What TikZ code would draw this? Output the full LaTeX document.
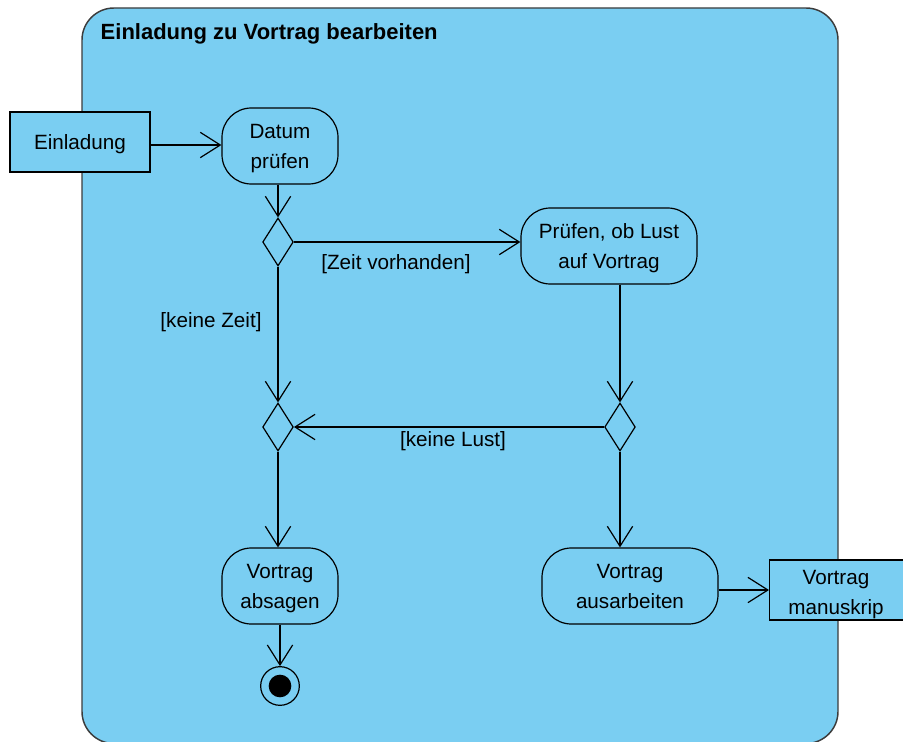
\documentclass[tikz,border=0pt]{standalone}
\usepackage{fontspec}
\setmainfont{Liberation Sans}
\usetikzlibrary{shapes.geometric,arrows.meta}
\definecolor{actfill}{RGB}{122,206,242}
\definecolor{framedraw}{RGB}{60,60,60}
\begin{document}
\begin{tikzpicture}[x=0.75pt,y=-0.75pt,
  txt/.style={font=\fontsize{15.5}{22.5}\selectfont, align=center},
  boxtxt/.style={txt, text depth=0pt},
  action/.style={boxtxt, draw=black, line width=0.9pt, fill=actfill, rounded corners=22pt,
    minimum width=#1, minimum height=57pt, inner sep=0pt},
  objbox/.style={boxtxt, draw=black, line width=0.9pt, fill=actfill, rectangle,
    minimum width=#1, minimum height=45pt, inner sep=0pt},
  decision/.style={draw=black, line width=0.9pt, fill=actfill, diamond, aspect=0.62,
    minimum width=23pt, minimum height=36pt, inner sep=0pt},
  flow/.style={draw=black, line width=0.9pt, -{Straight Barb[length=15pt, width=19pt, line width=0.9pt]}},
  guard/.style={txt}]
  \useasboundingbox (0,0) rectangle (903,742);
  \begin{scope}
    \clip (0,0) rectangle (903,742);
    % activity frame
    \draw[draw=framedraw, line width=1.1pt, fill=actfill, rounded corners=24pt]
      (82,8) rectangle (838,743.5);
    \node[anchor=west, font=\fontsize{16.5}{19}\bfseries\selectfont] (title) at (96,34)
      {Einladung zu Vortrag bearbeiten};

    % object nodes
    \node[objbox=105pt] (einl) at (80,142) {Einladung};
    \node[objbox=105pt, anchor=west] (manu) at (769,590) {};
    \node[boxtxt] (manutext) at (836,592) {Vortrag\\manuskrip};

    % actions
    \node[action=87pt] (datum) at (280,146) {Datum\\prüfen};
    \node[action=132pt] (pruef) at (609,246) {Prüfen, ob Lust\\auf Vortrag};
    \node[action=87pt] (absagen) at (280,586) {Vortrag\\absagen};
    \node[action=132pt] (ausarb) at (630,586) {Vortrag\\ausarbeiten};

    % decisions and merge
    \node[decision] (d1) at (278,242) {};
    \node[decision] (d2) at (278,427) {};
    \node[decision] (d3) at (620,427) {};

    % final node
    \node[circle, draw=black, line width=0.9pt, fill=actfill, minimum size=29pt, inner sep=0pt] (final) at (280,686) {};
    \fill[black] (final.center) circle (8.5pt);

    % control flows
    \draw[flow] (einl.east |- 0,145) -- (datum.west |- 0,145);
    \draw[flow] (datum.south -| d1) -- (d1.north);
    \draw[flow] (d1.east) -- (pruef.west |- d1.east);
    \draw[flow] (d1.south) -- (d2.north);
    \draw[flow] (pruef.south -| d3) -- (d3.north);
    \draw[flow] (d3.west) -- (d2.east);
    \draw[flow] (d2.south) -- (absagen.north -| d2);
    \draw[flow] (d3.south) -- (ausarb.north -| d3);
    \draw[flow] (ausarb.east |- 0,590) -- (manu.west);
    \draw[flow] (absagen.south) -- (final.north);

    % guards
    \node[guard] (g1) at (396,264) {[Zeit vorhanden]};
    \node[guard] (g2) at (211,322) {[keine Zeit]};
    \node[guard] (g3) at (453,441) {[keine Lust]};
  \end{scope}
\end{tikzpicture}
\end{document}
